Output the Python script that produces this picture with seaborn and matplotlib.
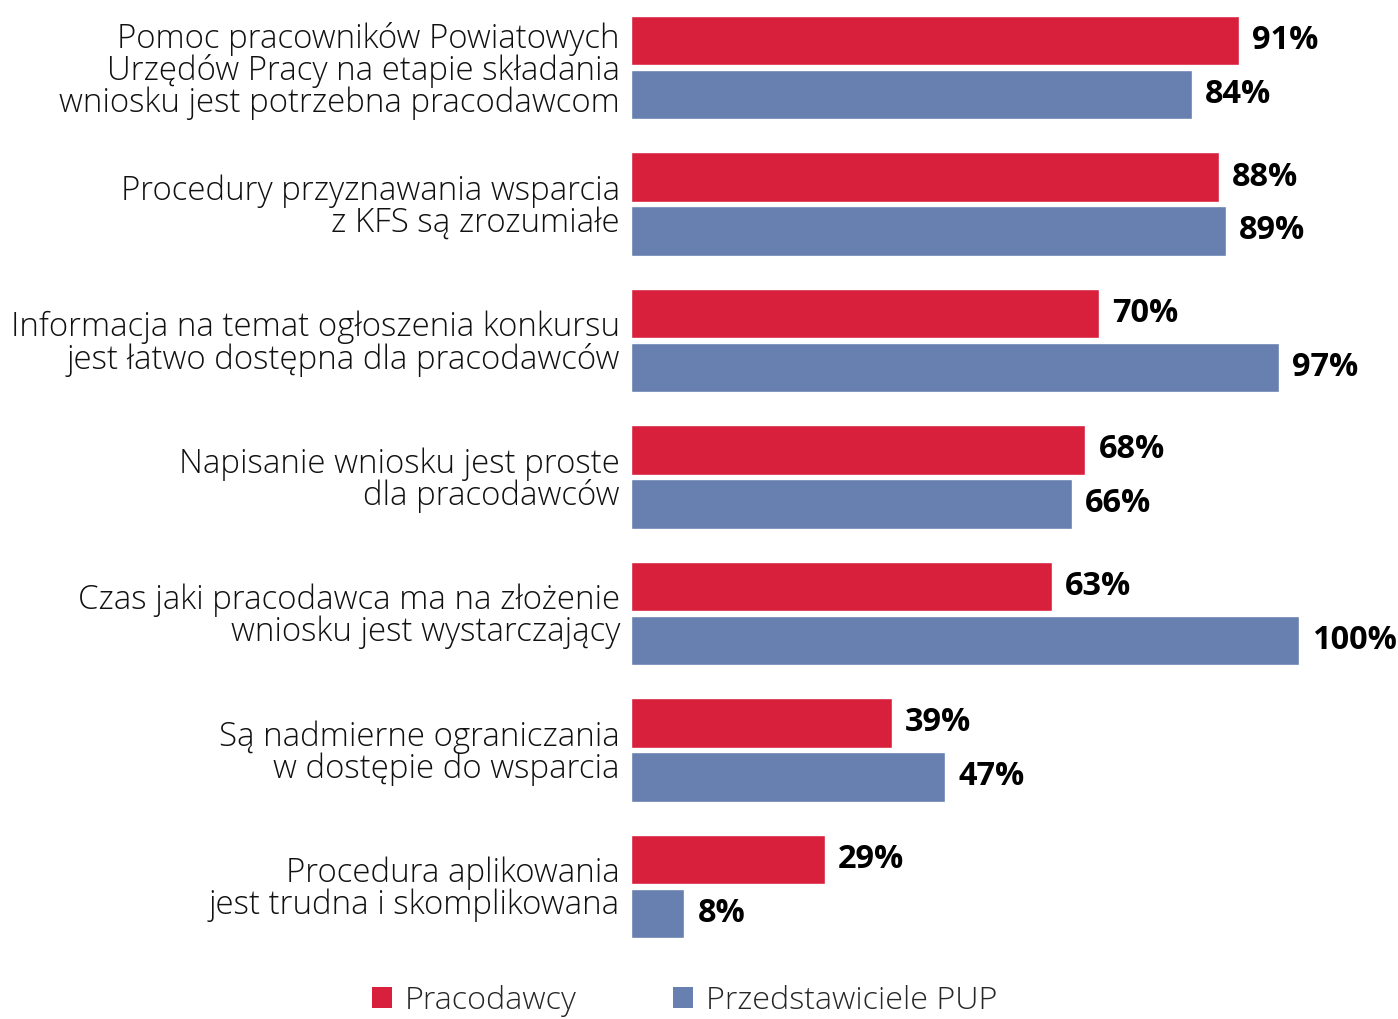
import matplotlib
matplotlib.use("Agg")
import matplotlib.pyplot as plt
from matplotlib.patches import Patch
import pandas as pd
import seaborn as sns

categories = [
    "Pomoc pracowników Powiatowych\nUrzędów Pracy na etapie składania\nwniosku jest potrzebna pracodawcom",
    "Procedury przyznawania wsparcia\nz KFS są zrozumiałe",
    "Informacja na temat ogłoszenia konkursu\njest łatwo dostępna dla pracodawców",
    "Napisanie wniosku jest proste\ndla pracodawców",
    "Czas jaki pracodawca ma na złożenie\nwniosku jest wystarczający",
    "Są nadmierne ograniczania\nw dostępie do wsparcia",
    "Procedura aplikowania\njest trudna i skomplikowana",
]
series_names = ["Pracodawcy", "Przedstawiciele PUP"]
pracodawcy = [91, 88, 70, 68, 63, 39, 29]
przedstawiciele_pup = [84, 89, 97, 66, 100, 47, 8]
colors = ["#D8203C", "#6780B0"]

df = pd.DataFrame({
    "kategoria": categories * 2,
    "grupa": [series_names[0]] * len(categories) + [series_names[1]] * len(categories),
    "wartosc": pracodawcy + przedstawiciele_pup,
})

sns.set_theme(style="white")
plt.rcParams["font.family"] = ["Open Sans", "DejaVu Sans"]

W, H = 1398, 1019
fig = plt.figure(figsize=(W / 100, H / 100), dpi=100)
ax_left = 631 / W
ax_bottom = 1 - 955 / H
ax = fig.add_axes([ax_left, ax_bottom, 1 - ax_left, 955 / H])

sns.barplot(
    data=df, y="kategoria", x="wartosc", hue="grupa", orient="h",
    palette=colors, order=categories, hue_order=series_names,
    width=0.791, gap=0.076, ax=ax, legend=False, saturation=1,
)

ax.set_xlim(0, (W - 631) / 6.68)
ax.set_ylim(6.502, -0.4945)
ax.set_xlabel("")
ax.set_ylabel("")
ax.set_xticks([])
for s in ax.spines.values():
    s.set_visible(False)
ax.tick_params(axis="y", length=0, pad=8)
for lbl in ax.get_yticklabels():
    lbl.set_fontsize(23.8)
    lbl.set_fontweight(300)
    lbl.set_color("#111111")
    lbl.set_linespacing(0.94)
    lbl.set_horizontalalignment("right")

for cont in ax.containers:
    ax.bar_label(cont, fmt="%d%%", padding=9.5, fontsize=23.4,
                 fontweight="bold", color="#000000")

handles = [Patch(facecolor=c, edgecolor="none") for c in colors]
fig.legend(
    handles, series_names, loc="center", bbox_to_anchor=(0.4896, 0.018),
    ncol=2, frameon=False, handlelength=0.63, handleheight=0.63,
    handletextpad=0.38, columnspacing=3.0, borderpad=0,
    prop={"weight": 300, "size": 23.2},
)

fig.savefig("out.png", dpi=100)
